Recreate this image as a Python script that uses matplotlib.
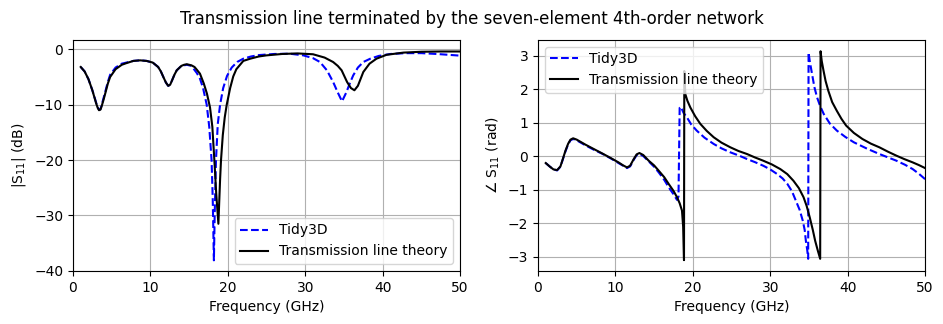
import matplotlib
matplotlib.use("Agg")
import matplotlib.pyplot as plt

# |S11| in dB (10 values per line, freq and value lines match)
freq_mag_tl = [1.0, 1.5, 2.0, 2.5, 2.75, 3.0, 3.2, 3.36, 3.55, 3.7,
               3.95, 4.2, 4.5, 4.8, 5.5, 6.3, 6.9, 7.8, 8.66, 9.5,
               10.3, 11.0, 11.35, 11.67, 12.0, 12.3, 12.55, 12.8, 13.1, 13.4,
               14.0, 14.35, 14.7, 15.3, 15.7, 16.0, 16.4, 16.9, 17.3, 17.7,
               18.0, 18.26, 18.5, 18.78, 19.0, 19.12, 19.35, 19.6, 19.86, 20.3,
               20.7, 21.1, 22.0, 22.9, 24.0, 25.0, 27.0, 29.0, 31.0, 32.5,
               33.6, 34.2, 34.7, 35.4, 35.9, 36.35, 36.8, 37.5, 38.3, 39.2,
               40.5, 42.7, 45.0, 47.5, 50.0]
mag_tl = [-3.2, -4.0, -5.4, -7.4, -8.6, -9.8, -10.6, -11.0, -10.9, -10.3,
          -9.1, -7.8, -6.2, -5.0, -3.6, -2.8, -2.5, -2.1, -2.0, -2.1,
          -2.4, -3.2, -4.0, -5.0, -6.0, -6.6, -6.4, -5.6, -4.6, -3.8,
          -3.0, -2.8, -2.7, -2.9, -3.2, -3.7, -4.4, -6.2, -8.0, -10.5,
          -14.0, -20.0, -26.0, -31.5, -23.5, -20.0, -15.5, -12.3, -10.0, -7.0,
          -4.9, -3.6, -2.1, -1.7, -1.3, -1.1, -0.85, -0.75, -0.9, -1.5,
          -2.3, -3.0, -3.8, -5.9, -7.0, -7.4, -6.6, -4.1, -2.6, -1.7,
          -1.0, -0.6, -0.45, -0.4, -0.4]

freq_mag_fdtd = [1.0, 1.5, 2.0, 2.5, 2.75, 3.0, 3.2, 3.36, 3.55, 3.7,
                 3.95, 4.2, 4.5, 4.8, 5.5, 6.3, 6.9, 7.8, 8.66, 9.5,
                 10.3, 11.0, 11.35, 11.67, 12.0, 12.3, 12.55, 12.8, 13.1, 13.4,
                 14.0, 14.7, 15.3, 16.0, 16.4, 16.8, 17.27, 17.6, 17.9, 18.05,
                 18.2, 18.3, 18.47, 18.7, 19.0, 19.4, 19.9, 20.5, 21.2, 22.0,
                 23.0, 24.0, 26.0, 28.0, 29.75, 31.0, 31.9, 32.8, 33.6, 34.2,
                 34.75, 35.3, 35.8, 36.2, 36.8, 37.5, 38.4, 39.5, 41.0, 43.0,
                 45.0, 47.0, 49.0, 50.0]
mag_fdtd = [-3.2, -4.0, -5.4, -7.4, -8.5, -9.7, -10.5, -10.9, -10.8, -10.1,
            -8.8, -7.5, -5.9, -4.6, -3.3, -2.6, -2.4, -2.1, -2.0, -2.1,
            -2.4, -3.2, -4.0, -5.0, -6.0, -6.6, -6.4, -5.6, -4.6, -3.8,
            -3.0, -2.8, -3.0, -4.3, -5.3, -7.0, -10.0, -14.0, -20.0, -27.0,
            -38.1, -30.0, -20.0, -13.5, -10.0, -7.0, -4.8, -3.3, -2.3, -1.7,
            -1.3, -1.05, -0.85, -0.8, -1.1, -1.6, -2.3, -3.8, -5.9, -7.8,
            -9.4, -7.8, -6.0, -4.7, -3.3, -2.3, -1.7, -1.2, -0.85, -0.7,
            -0.7, -0.85, -1.05, -1.15]

# angle of S11 in rad
freq_ph_tl = [1.0, 1.5, 2.0, 2.47, 2.9, 3.25, 3.55, 3.9, 4.2, 4.54,
              5.0, 6.13, 7.2, 8.28, 9.4, 10.4, 11.0, 11.5, 11.9, 12.37,
              12.75, 13.1, 13.6, 14.3, 15.0, 15.6, 16.3, 16.9, 17.5, 17.96,
              18.3, 18.6, 18.75, 18.86, 18.9, 19.03, 19.3, 19.68, 20.3, 20.97,
              21.8, 22.7, 23.7, 24.85, 25.9, 27.0, 28.0, 29.1, 30.2, 31.3,
              32.2, 33.0, 33.7, 34.3, 34.7, 35.1, 35.5, 35.8, 36.15, 36.45,
              36.5, 36.65, 36.88, 37.15, 37.5, 38.0, 38.6, 39.2, 39.8, 40.8,
              41.9, 43.0, 44.1, 45.2, 46.3, 47.3, 48.4, 49.2, 50.0]
ph_tl = [-0.2, -0.3, -0.39, -0.41, -0.3, -0.05, 0.17, 0.38, 0.5, 0.54,
         0.5, 0.35, 0.22, 0.09, -0.05, -0.18, -0.27, -0.33, -0.28, -0.08,
         0.06, 0.1, 0.04, -0.13, -0.27, -0.43, -0.62, -0.83, -1.03, -1.22,
         -1.4, -1.62, -2.1, -3.1, 2.55, 1.86, 1.66, 1.46, 1.2, 0.97,
         0.76, 0.57, 0.41, 0.27, 0.16, 0.07, -0.03, -0.13, -0.24, -0.38,
         -0.53, -0.73, -0.95, -1.22, -1.48, -1.82, -2.2, -2.52, -2.82, -3.06,
         3.14, 2.85, 2.56, 2.25, 1.96, 1.62, 1.36, 1.12, 0.92, 0.7,
         0.52, 0.38, 0.27, 0.14, 0.02, -0.08, -0.18, -0.26, -0.35]

freq_ph_fdtd = [1.0, 1.5, 2.0, 2.47, 2.9, 3.25, 3.55, 3.9, 4.2, 4.54,
                5.0, 6.13, 7.2, 8.28, 9.4, 10.4, 11.0, 11.5, 11.9, 12.37,
                12.75, 13.1, 13.6, 14.3, 15.0, 15.6, 16.3, 16.9, 17.5, 17.96,
                18.15, 18.3, 18.45, 18.8, 19.25, 19.8, 20.5, 21.5, 22.7, 23.7,
                24.85, 26.0, 27.0, 28.0, 29.1, 30.0, 30.9, 31.6, 32.2, 32.8,
                33.3, 33.8, 34.2, 34.45, 34.6, 34.78, 34.9, 34.95, 35.1, 35.4,
                35.7, 36.05, 36.45, 36.9, 37.7, 38.6, 39.7, 40.8, 42.5, 44.1,
                45.2, 46.3, 47.4, 48.4, 49.2, 50.0]
ph_fdtd = [-0.2, -0.3, -0.39, -0.42, -0.31, -0.06, 0.15, 0.36, 0.48, 0.52,
           0.48, 0.33, 0.2, 0.08, -0.06, -0.2, -0.28, -0.35, -0.3, -0.1,
           0.04, 0.07, 0.01, -0.15, -0.31, -0.48, -0.7, -0.93, -1.13, -1.3,
           -1.2, 1.45, 1.48, 1.3, 1.16, 0.95, 0.77, 0.56, 0.37, 0.24,
           0.12, 0.02, -0.08, -0.17, -0.28, -0.39, -0.53, -0.66, -0.82, -1.04,
           -1.32, -1.6, -1.92, -2.2, -2.52, -2.8, -3.06, 3.1, 2.85, 2.46,
           2.07, 1.76, 1.5, 1.27, 0.98, 0.77, 0.58, 0.42, 0.23, 0.07,
           -0.03, -0.13, -0.25, -0.38, -0.52, -0.68]

fig = plt.figure(figsize=(9.43, 3.24), dpi=100)
ax1 = fig.add_axes([0.0774, 0.164, 0.4105, 0.713])
ax2 = fig.add_axes([0.5705, 0.164, 0.4105, 0.713])

ax1.plot(freq_mag_fdtd, mag_fdtd, "b--", label="Tidy3D")
ax1.plot(freq_mag_tl, mag_tl, "k-", label="Transmission line theory")
ax1.set_xlim(0, 50)
ax1.set_ylim(-40, 1.7)
ax1.set_xlabel("Frequency (GHz)")
ax1.set_ylabel("|S$_{11}$| (dB)")
ax1.grid(True)
ax1.legend(loc="lower right")

ax2.plot(freq_ph_fdtd, ph_fdtd, "b--", label="Tidy3D")
ax2.plot(freq_ph_tl, ph_tl, "k-", label="Transmission line theory")
ax2.set_xlim(0, 50)
ax2.set_ylim(-3.42, 3.48)
ax2.set_xlabel("Frequency (GHz)")
ax2.set_ylabel(r"$\angle$ S$_{11}$ (rad)")
ax2.grid(True)
ax2.legend(loc="upper left")

fig.suptitle("Transmission line terminated by the seven-element 4th-order network",
             y=0.97, fontsize=12)

fig.savefig("out.png", dpi=100)
